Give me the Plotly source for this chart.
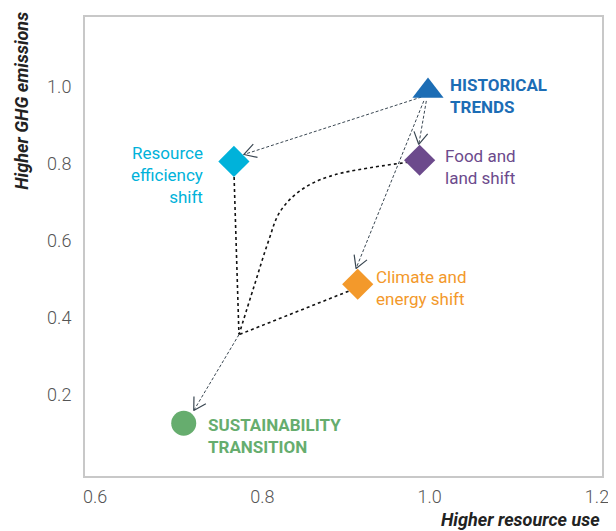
import math
import plotly.graph_objects as go

# --- data ---
scenario_names = ["HISTORICAL<br>TRENDS", "Resource<br>efficiency<br>shift", "Food and<br>land shift",
                  "Climate and<br>energy shift", "SUSTAINABILITY<br>TRANSITION"]
scenario_x = [0.998, 0.766, 0.988, 0.914, 0.706]
scenario_y = [0.988, 0.805, 0.808, 0.486, 0.125]
scenario_symbols = ["triangle-up", "diamond", "diamond", "diamond", "circle"]
scenario_colors = ["#1c6db5", "#00b2da", "#6c4a8c", "#f3992b", "#66ad6e"]

# dashed arrows: start -> end
arrow_x0 = [0.990, 0.996, 0.993, 0.772]
arrow_y0 = [0.972, 0.962, 0.962, 0.355]
arrow_x1 = [0.778, 0.987, 0.912, 0.718]
arrow_y1 = [0.823, 0.849, 0.527, 0.158]

# dotted paths into the junction
re_path_x = [0.766, 0.772]
re_path_y = [0.780, 0.357]
ce_path_x = [0.903, 0.772]
ce_path_y = [0.468, 0.355]
fl_curve_x = [0.975, 0.880, 0.844, 0.821, 0.807, 0.790, 0.772]
fl_curve_y = [0.803, 0.766, 0.727, 0.674, 0.596, 0.480, 0.355]

x_ticks = [0.6, 0.8, 1.0, 1.2]
y_ticks = [0.2, 0.4, 0.6, 0.8, 1.0]
x_range = [0.588, 1.206]
y_range = [-0.012, 1.18]

# layout geometry
fig_w, fig_h = 608, 523
m_l, m_r, m_t, m_b = 77, 9, 7, 55
px_per_x = (fig_w - m_l - m_r) / (x_range[1] - x_range[0])
px_per_y = (fig_h - m_t - m_b) / (y_range[1] - y_range[0])

fig = go.Figure()

# dotted black paths
for px, py, shape in [(re_path_x, re_path_y, "linear"), (ce_path_x, ce_path_y, "linear"),
                      (fl_curve_x, fl_curve_y, "spline")]:
    fig.add_trace(go.Scatter(x=px, y=py, mode="lines",
                             line=dict(color="#111111", width=1.6, dash="dot", shape=shape),
                             hoverinfo="skip", showlegend=False))

# dashed arrows with open chevron heads
arrow_color = "#3a4752"
head_len, head_angle = 14, math.radians(30)
for x0, y0, x1, y1 in zip(arrow_x0, arrow_y0, arrow_x1, arrow_y1):
    fig.add_trace(go.Scatter(x=[x0, x1], y=[y0, y1], mode="lines",
                             line=dict(color=arrow_color, width=1, dash="3px,2px"),
                             hoverinfo="skip", showlegend=False))
    dx = (x1 - x0) * px_per_x
    dy = (y1 - y0) * px_per_y
    n = math.hypot(dx, dy)
    bx, by = -dx / n, -dy / n
    hx, hy = [], []
    for sgn in (1, -1):
        a = sgn * head_angle
        rx = bx * math.cos(a) - by * math.sin(a)
        ry = bx * math.sin(a) + by * math.cos(a)
        hx.append(x1 + rx * head_len / px_per_x)
        hy.append(y1 + ry * head_len / px_per_y)
    fig.add_trace(go.Scatter(x=[hx[0], x1, hx[1]], y=[hy[0], y1, hy[1]], mode="lines",
                             line=dict(color=arrow_color, width=1.2),
                             hoverinfo="skip", showlegend=False))

# scenario markers
fig.add_trace(go.Scatter(x=scenario_x, y=scenario_y, mode="markers", opacity=1,
                         marker=dict(symbol=scenario_symbols, color=scenario_colors, opacity=1,
                                     size=[27, 24, 24, 24, 25], line=dict(width=0)),
                         hoverinfo="skip", showlegend=False))

label_font = "Liberation Sans Narrow, Roboto, sans-serif"
label_specs = [
    (0, 1.022, 0.976, "left", True),
    (1, 0.731, 0.769, "right", False),
    (2, 1.016, 0.790, "left", False),
    (3, 0.934, 0.475, "left", False),
    (4, 0.733, 0.091, "left", True),
]
for i, lx, ly, anchor, bold in label_specs:
    fig.add_annotation(x=lx, y=ly, xref="x", yref="y", text=scenario_names[i],
                       showarrow=False, xanchor=anchor, yanchor="middle", align=anchor,
                       font=dict(family=label_font, size=17, color=scenario_colors[i],
                                 weight="bold" if bold else "normal"))

# axis titles
fig.add_annotation(x=-0.1245, y=1.015, xref="paper", yref="paper", text="Higher GHG emissions",
                   textangle=-90, showarrow=False, xanchor="center", yanchor="top",
                   font=dict(family="Roboto, sans-serif", size=18, color="#222222",
                             weight="bold", style="italic"))
fig.add_annotation(x=1.0, y=-0.095, xref="paper", yref="paper", text="Higher resource use",
                   showarrow=False, xanchor="right", yanchor="middle",
                   font=dict(family="Roboto, sans-serif", size=18, color="#222222",
                             weight="bold", style="italic"))

axis_common = dict(showline=True, linecolor="#c8c8c8", linewidth=2, mirror=True,
                   showgrid=False, zeroline=False, ticks="outside",
                   tickcolor="rgba(0,0,0,0)",
                   tickfont=dict(family="Roboto, sans-serif", size=18, color="#555555", weight=300))
fig.update_xaxes(range=x_range, tickvals=x_ticks, ticktext=[f"{v:.1f}" for v in x_ticks],
                 ticklen=3, **axis_common)
fig.update_yaxes(range=y_range, tickvals=y_ticks, ticktext=[f"{v:.1f}" for v in y_ticks],
                 ticklen=8, **axis_common)

fig.update_layout(width=fig_w, height=fig_h, margin=dict(l=m_l, r=m_r, t=m_t, b=m_b),
                  plot_bgcolor="white", paper_bgcolor="white")

fig.write_html("out.html")
